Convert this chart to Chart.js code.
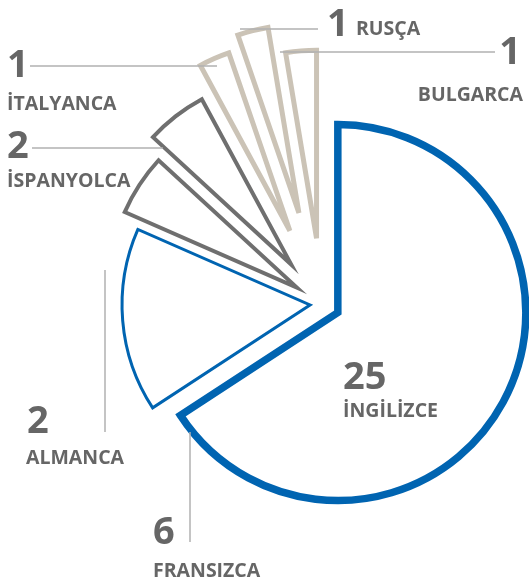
<!DOCTYPE html>
<html><head><meta charset="utf-8">
<script src="https://cdn.jsdelivr.net/npm/chart.js@4.4.1/dist/chart.umd.min.js"></script>
<style>html,body{margin:0;padding:0;background:#fff;} canvas{display:block;}</style>
</head><body>
<canvas id="c" width="529" height="583"></canvas>
<script>
// ---- data ----
const categories = ['İNGİLİZCE', 'FRANSIZCA', 'ALMANCA', 'İSPANYOLCA', 'İTALYANCA', 'RUSÇA', 'BULGARCA'];
const counts = [25, 6, 2, 2, 1, 1, 1];

// ---- styles ----
const sliceColors = ['#0064b1', '#0064b1', '#6f6f6f', '#6f6f6f', '#cbc3b6', '#cbc3b6', '#cbc3b6'];
const sliceWidths = [7.5, 3, 4, 4, 5, 5, 5];
const explodeDist = [18, 12, 30, 50, 80, 94, 66];
const textColor = '#666666';
const leaderColor = '#b0b0b0';
// label layout: number pos, name pos, leader line
const labelLayout = [
  {num: [343, 389, 'left'], name: [343, 417, 'left'], leader: null},
  {num: [153, 544, 'left'], name: [153, 577, 'left'], leader: [190, 432, 190, 542]},
  {num: [27, 433, 'left'], name: [26, 464, 'left'], leader: [105, 270, 105, 432]},
  {num: [7, 158, 'left'], name: [7, 187, 'left'], leader: [32, 148, 163, 148]},
  {num: [7, 77, 'left'], name: [7, 110, 'left'], leader: [30, 66, 217, 66]},
  {num: [327, 36, 'left'], name: [356, 35, 'left'], leader: [240, 29, 318, 29]},
  {num: [521, 64, 'right'], name: [523, 101, 'right'], leader: [280, 52, 495, 52]}
];

const explodePlugin = {
  id: 'explode',
  afterDatasetUpdate(chart, args) {
    args.meta.data.forEach((arc, i) => {
      const mid = (arc.startAngle + arc.endAngle) / 2;
      arc.x += Math.cos(mid) * explodeDist[i];
      arc.y += Math.sin(mid) * explodeDist[i];
    });
  }
};

const labelPlugin = {
  id: 'labels',
  afterDraw(chart) {
    const ctx = chart.ctx;
    ctx.save();
    ctx.strokeStyle = leaderColor;
    ctx.lineWidth = 1.5;
    labelLayout.forEach(l => {
      if (!l.leader) return;
      ctx.beginPath();
      ctx.moveTo(l.leader[0], l.leader[1]);
      ctx.lineTo(l.leader[2], l.leader[3]);
      ctx.stroke();
    });
    ctx.fillStyle = textColor;
    ctx.textBaseline = 'alphabetic';
    labelLayout.forEach((l, i) => {
      ctx.font = 'bold 38px "Open Sans"';
      ctx.textAlign = l.num[2];
      ctx.fillText(String(counts[i]), l.num[0], l.num[1]);
      ctx.font = 'bold 19.5px "Open Sans"';
      ctx.textAlign = l.name[2];
      ctx.fillText(categories[i], l.name[0], l.name[1]);
    });
    ctx.restore();
  }
};

new Chart(document.getElementById('c'), {
  type: 'pie',
  data: {
    labels: categories,
    datasets: [{
      data: counts,
      backgroundColor: '#ffffff',
      borderColor: sliceColors,
      borderWidth: sliceWidths,
      borderJoinStyle: 'miter',
      hoverOffset: 0
    }]
  },
  options: {
    responsive: false,
    animation: false,
    events: [],
    radius: 188,
    layout: {padding: {left: 115, top: 25, right: 0, bottom: 0}},
    plugins: {legend: {display: false}, tooltip: {enabled: false}}
  },
  plugins: [explodePlugin, labelPlugin]
});
</script>
</body></html>
